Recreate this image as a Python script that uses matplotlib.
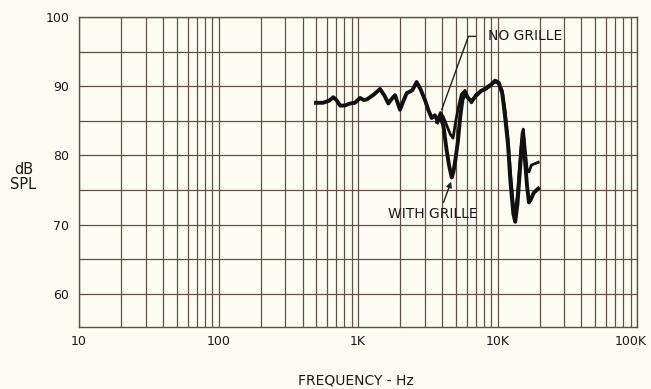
import matplotlib.pyplot as plt
from matplotlib.ticker import FixedLocator, NullFormatter, LogLocator
from matplotlib.transforms import ScaledTranslation

# response curves (Hz, dB SPL)
shared_freq = [500, 560, 620, 665, 700, 745, 800, 877, 950, 1034, 1100, 1160, 1300, 1438, 1550,
               1649, 1750, 1842, 2000, 2120, 2234, 2450, 2631, 2800, 3022, 3200, 3375, 3550, 3700]
shared_db = [87.6, 87.6, 87.9, 88.4, 88.0, 87.2, 87.2, 87.5, 87.6, 88.3, 88.0, 88.1, 88.8, 89.6, 88.6,
             87.5, 88.2, 88.7, 86.6, 87.9, 89.0, 89.4, 90.6, 89.6, 88.0, 86.5, 85.4, 85.8, 85.1]

no_grille_freq = [3700, 3900, 4100, 4350, 4600, 4800, 5000, 5250, 5500, 5850, 6100, 6500, 7000,
                  7600, 8200, 9000, 9600, 10200, 10800, 11300, 11900, 12400, 13000, 13400, 13900,
                  14500, 15000, 15300, 15700, 16300, 16800, 17500, 18500, 19600]
no_grille_db = [85.1, 86.2, 85.5, 84.2, 83.0, 82.5, 84.8, 87.0, 88.8, 89.4, 88.5, 87.6, 88.8,
                89.3, 89.8, 90.3, 90.6, 90.4, 89.4, 86.8, 82.5, 77.5, 72.8, 71.5, 74.5,
                79.5, 83.2, 83.8, 81.5, 78.0, 77.6, 78.6, 78.8, 79.0]

with_grille_freq = [3700, 3900, 4100, 4300, 4500, 4700, 4850, 5000, 5200, 5400, 5600, 5850, 6100,
                    6500, 7000, 7600, 8200, 9000, 9600, 10200, 10800, 11300, 11900, 12400, 13000,
                    13400, 13900, 14500, 15000, 15300, 15700, 16300, 16800, 17300, 18200, 19600]
with_grille_db = [84.8, 85.6, 84.2, 81.0, 78.5, 76.8, 77.8, 79.5, 82.0, 85.5, 88.0, 89.0, 88.4,
                  87.8, 88.6, 89.3, 89.6, 90.2, 90.8, 90.5, 89.0, 85.8, 81.5, 76.0, 71.5,
                  70.4, 73.0, 78.0, 82.0, 82.6, 79.5, 75.5, 73.2, 73.6, 74.6, 75.2]

x_ticks = [10, 100, 1000, 10000, 100000]
x_tick_labels = ["10", "100", "1K", "10K", "100K"]
y_ticks = [60, 70, 80, 90, 100]

paper = "#fcfcf3"
grid_col = "#5e5044"
ink = "#1a1a1a"

fig = plt.figure(figsize=(6.51, 3.89), dpi=100, facecolor=paper)
ax = fig.add_axes([0.1214, 0.1594, 0.8571, 0.7969], facecolor=paper)

ax.set_xscale("log")
ax.set_xlim(10, 100000)
ax.set_ylim(55.2, 100)

ax.xaxis.set_major_locator(FixedLocator(x_ticks))
ax.xaxis.set_minor_locator(LogLocator(base=10, subs=range(2, 10), numticks=20))
ax.xaxis.set_minor_formatter(NullFormatter())
ax.set_yticks(y_ticks)
ax.yaxis.set_minor_locator(FixedLocator([65, 75, 85, 95]))

ax.grid(True, which="both", color=grid_col, linewidth=0.9)
ax.tick_params(which="both", length=0, labelsize=9, colors=ink)
ax.tick_params(axis="x", pad=6)
ax.tick_params(axis="y", pad=7)
for s in ax.spines.values():
    s.set_color(grid_col)
    s.set_linewidth(1.0)

# keep "100K" inside the canvas
labels = ax.set_xticklabels(x_tick_labels)
labels[-1].set_horizontalalignment("right")
labels[-1].set_transform(labels[-1].get_transform() + ScaledTranslation(10 / 100, 0, fig.dpi_scale_trans))

ax.plot(shared_freq, shared_db, color="#111111", linewidth=2.8, solid_joinstyle="round")
ax.plot(no_grille_freq, no_grille_db, color="#111111", linewidth=2.0, solid_joinstyle="round")
ax.plot(with_grille_freq, with_grille_db, color="#111111", linewidth=2.8, solid_joinstyle="round")

ax.annotate("NO GRILLE", xy=(3980, 86.6), xytext=(8550, 97.2), fontsize=10, ha="left",
            va="center", color=ink,
            arrowprops=dict(arrowstyle="-", color="#222222", lw=1.0, relpos=(0, 0.5),
                            connectionstyle="angle,angleA=0,angleB=70,rad=0",
                            shrinkA=7, shrinkB=0))
ax.annotate("WITH GRILLE", xy=(4650, 76.2), xytext=(3450, 71.6), fontsize=10, ha="center",
            va="center", color=ink,
            arrowprops=dict(arrowstyle="-|>", color="#222222", lw=1.0, mutation_scale=8,
                            relpos=(0.6, 1.0), shrinkA=1, shrinkB=0))

fig.text(0.036, 0.545, "dB\nSPL", fontsize=10.5, ha="center", va="center", color=ink,
         linespacing=1.0)
fig.text(0.546, 0.023, "FREQUENCY - Hz", fontsize=10, ha="center", va="center", color=ink)

fig.savefig("out.png", dpi=100, facecolor=paper)
